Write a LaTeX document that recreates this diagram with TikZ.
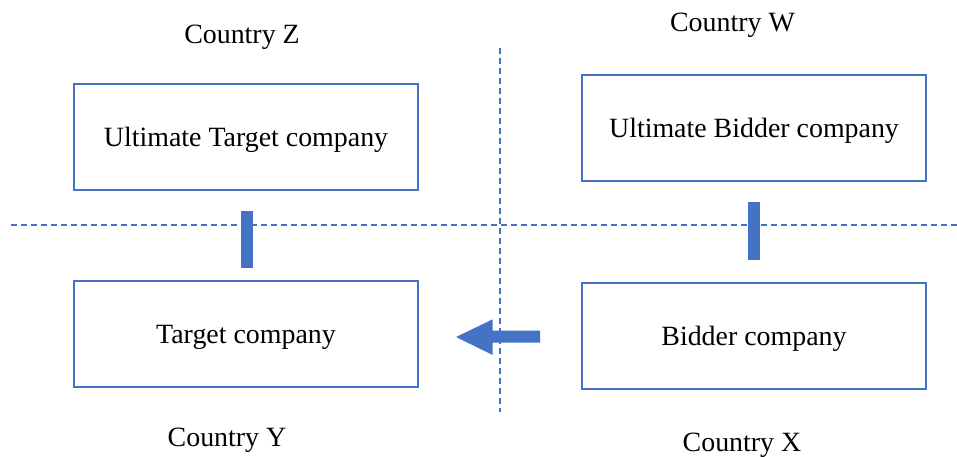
\documentclass[tikz,border=0pt]{standalone}
\usepackage{fontspec}
\setmainfont{Liberation Serif}
\definecolor{obl}{HTML}{4472C4}
\begin{document}
\begin{tikzpicture}[x=1pt,y=-1pt,
  box/.style={draw=obl,line width=2.2pt,minimum width=344pt,minimum height=106pt,inner sep=0pt,text height=19.5pt,text depth=0pt,font=\fontsize{27.9}{33}\selectfont},
  lbl/.style={anchor=base,inner sep=0pt,font=\fontsize{27.9}{33}\selectfont},
  sep/.style={draw=obl,line width=1.1pt,dash pattern=on 6pt off 4pt},
  bar/.style={fill=obl,draw=none}]
\useasboundingbox (0,0) rectangle (957,457);
\node[box] (ut) at (246,137) {Ultimate Target company};
\node[box] (tc) at (246,334) {Target company};
\node[box] (ub) at (754,128) {Ultimate Bidder company};
\node[box] (bc) at (754,336) {Bidder company};
\node[lbl] (cz) at (242,43.5) {Country Z};
\node[lbl] (cw) at (732.5,31.5) {Country W};
\node[lbl] (cy) at (227,446) {Country Y};
\node[lbl] (cx) at (742,451.5) {Country X};
\coordinate (hl) at (11,225);
\coordinate (hr) at (957,225);
\coordinate (vt) at (500,48);
\coordinate (vb) at (500,412);
\draw[sep] (hl) -- (hr);
\draw[sep] (vt) -- (vb);
\fill[obl] (241,211) rectangle (253,268);
\fill[obl] (748,202) rectangle (760,260);
\fill[obl] (540,330.7) -- (492.7,330.7) -- (492.7,319.3) -- (456,337) -- (492.7,355) -- (492.7,342.7) -- (540,342.7) -- cycle;
\end{tikzpicture}
\end{document}
